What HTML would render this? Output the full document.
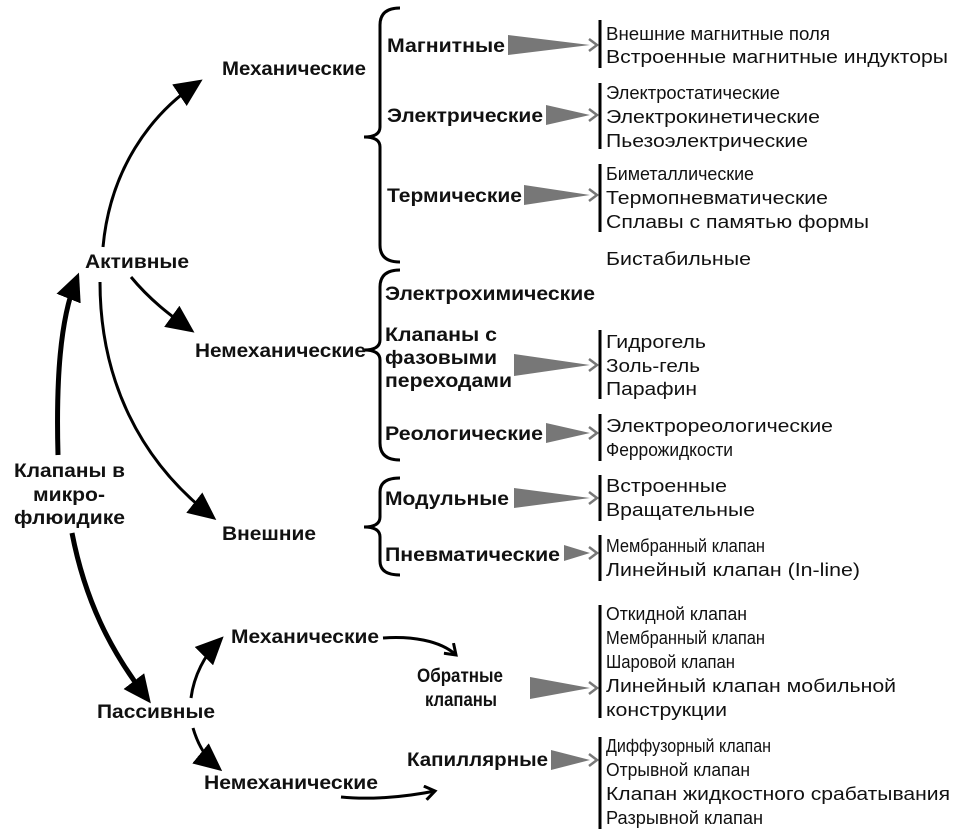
<!DOCTYPE html>
<html><head><meta charset="utf-8"><style>
html,body{margin:0;padding:0;background:#fff;}
svg{display:block;}
text{font-family:"Liberation Sans","DejaVu Sans",sans-serif;fill:#111;}
.b{font-weight:bold;font-size:19.5px;}
.r{font-size:18.5px;}
</style></head><body>
<svg width="959" height="833" viewBox="0 0 959 833" xmlns="http://www.w3.org/2000/svg">
<defs>
<marker id="big" markerWidth="28" markerHeight="26" refX="20" refY="13" orient="auto" markerUnits="userSpaceOnUse"><path d="M0,0 L28,13 L0,26 Z" fill="#000"/></marker>
<marker id="open" markerWidth="16" markerHeight="16" refX="12" refY="8" orient="auto" markerUnits="userSpaceOnUse"><path d="M2,1 L12,8 L2,15" fill="none" stroke="#000" stroke-width="3"/></marker>
</defs>

<g fill="none" stroke="#000" stroke-width="3">
<path d="M400,8 Q380,8 380,25 L380,127 Q380,137 364,137 Q380,137 380,147 L380,245 Q380,262 400,262"/>
<path d="M400,270 Q380,270 380,287 L380,340 Q380,350 364,350 Q380,350 380,360 L380,443 Q380,460 400,460"/>
<path d="M400,478 Q380,478 380,492 L380,517 Q380,527 364,527 Q380,527 380,537 L380,561 Q380,575 400,575"/>
</g>

<g fill="none" stroke="#000">
<path d="M103,247 C110,170 150,115 196,84" stroke-width="3" marker-end="url(#big)"/>
<path d="M131,277 C150,300 170,315 188,328" stroke-width="3" marker-end="url(#big)"/>
<path d="M100,282 C100,380 140,460 210,515" stroke-width="3" marker-end="url(#big)"/>
<path d="M58,455 C56,380 60,320 76,280" stroke-width="5" marker-end="url(#big)"/>
<path d="M72,533 C85,600 110,650 146,697" stroke-width="5" marker-end="url(#big)"/>
<path d="M191,698 C194,675 205,655 218,642" stroke-width="3" marker-end="url(#big)"/>
<path d="M193,728 C198,745 205,757 216,766" stroke-width="3" marker-end="url(#big)"/>
<path d="M383,638 C410,636 440,640 456,655" stroke-width="3" marker-end="url(#open)"/>
<path d="M341,797 C370,800 405,797 435,791" stroke-width="3" marker-end="url(#open)"/>
</g>

<g fill="#777" stroke="none">
<polygon points="508,35 590,45 508,55"/>
<polygon points="546,105 590,115 546,125"/>
<polygon points="524,185 590,195 524,205"/>
<polygon points="514,354 590,365 514,376"/>
<polygon points="546,423 590,433 546,443"/>
<polygon points="514,488 590,498 514,508"/>
<polygon points="564,545 590,553 564,561"/>
<polygon points="530,677 590,688 530,699"/>
<polygon points="551,750 590,760 551,770"/>
</g>
<g fill="none" stroke="#777" stroke-width="2.5">
<path d="M589,39 L597,45 L589,51"/>
<path d="M589,109 L597,115 L589,121"/>
<path d="M589,189 L597,195 L589,201"/>
<path d="M589,359 L597,365 L589,371"/>
<path d="M589,427 L597,433 L589,439"/>
<path d="M589,492 L597,498 L589,504"/>
<path d="M589,547 L597,553 L589,559"/>
<path d="M589,682 L597,688 L589,694"/>
<path d="M589,754 L597,760 L589,766"/>
</g>

<g stroke="#000" stroke-width="3">
<line x1="600" y1="20" x2="600" y2="68"/>
<line x1="600" y1="83" x2="600" y2="149"/>
<line x1="600" y1="164" x2="600" y2="232"/>
<line x1="600" y1="330" x2="600" y2="399"/>
<line x1="600" y1="414" x2="600" y2="461"/>
<line x1="600" y1="475" x2="600" y2="521"/>
<line x1="600" y1="535" x2="600" y2="581"/>
<line x1="600" y1="605" x2="600" y2="718"/>
<line x1="600" y1="737" x2="600" y2="829"/>
</g>

<g class="b" lengthAdjust="spacingAndGlyphs">
<text x="222" y="75" textLength="144" lengthAdjust="spacingAndGlyphs">Механические</text>
<text x="85" y="268" textLength="104" lengthAdjust="spacingAndGlyphs">Активные</text>
<text x="195" y="357" textLength="171" lengthAdjust="spacingAndGlyphs">Немеханические</text>
<text x="222" y="540" textLength="94" lengthAdjust="spacingAndGlyphs">Внешние</text>
<text x="14" y="477" textLength="111" lengthAdjust="spacingAndGlyphs">Клапаны в</text>
<text x="33" y="501" textLength="72" lengthAdjust="spacingAndGlyphs">микро-</text>
<text x="14" y="524" textLength="111" lengthAdjust="spacingAndGlyphs">флюидике</text>
<text x="97" y="718" textLength="118" lengthAdjust="spacingAndGlyphs">Пассивные</text>
<text x="231" y="643" textLength="148" lengthAdjust="spacingAndGlyphs">Механические</text>
<text x="204" y="789" textLength="174" lengthAdjust="spacingAndGlyphs">Немеханические</text>
<text x="417" y="682" textLength="86" lengthAdjust="spacingAndGlyphs">Обратные</text>
<text x="425" y="706" textLength="72" lengthAdjust="spacingAndGlyphs">клапаны</text>
<text x="407" y="766" textLength="141" lengthAdjust="spacingAndGlyphs">Капиллярные</text>
<text x="387" y="52" textLength="118" lengthAdjust="spacingAndGlyphs">Магнитные</text>
<text x="387" y="122" textLength="156" lengthAdjust="spacingAndGlyphs">Электрические</text>
<text x="387" y="202" textLength="135" lengthAdjust="spacingAndGlyphs">Термические</text>
<text x="385" y="300" textLength="210" lengthAdjust="spacingAndGlyphs">Электрохимические</text>
<text x="385" y="341" textLength="112" lengthAdjust="spacingAndGlyphs">Клапаны с</text>
<text x="385" y="364" textLength="112" lengthAdjust="spacingAndGlyphs">фазовыми</text>
<text x="385" y="387" textLength="127" lengthAdjust="spacingAndGlyphs">переходами</text>
<text x="385" y="440" textLength="158" lengthAdjust="spacingAndGlyphs">Реологические</text>
<text x="385" y="505" textLength="124" lengthAdjust="spacingAndGlyphs">Модульные</text>
<text x="385" y="561" textLength="175" lengthAdjust="spacingAndGlyphs">Пневматические</text>
</g>

<g class="r">
<text x="606" y="40" textLength="224" lengthAdjust="spacingAndGlyphs">Внешние магнитные поля</text>
<text x="606" y="63" textLength="342" lengthAdjust="spacingAndGlyphs">Встроенные магнитные индукторы</text>
<text x="606" y="99" textLength="174" lengthAdjust="spacingAndGlyphs">Электростатические</text>
<text x="606" y="123" textLength="214" lengthAdjust="spacingAndGlyphs">Электрокинетические</text>
<text x="606" y="147" textLength="202" lengthAdjust="spacingAndGlyphs">Пьезоэлектрические</text>
<text x="606" y="180" textLength="148" lengthAdjust="spacingAndGlyphs">Биметаллические</text>
<text x="606" y="204" textLength="222" lengthAdjust="spacingAndGlyphs">Термопневматические</text>
<text x="606" y="228" textLength="263" lengthAdjust="spacingAndGlyphs">Сплавы с памятью формы</text>
<text x="606" y="265" textLength="145" lengthAdjust="spacingAndGlyphs">Бистабильные</text>
<text x="606" y="348" textLength="100" lengthAdjust="spacingAndGlyphs">Гидрогель</text>
<text x="606" y="372" textLength="94" lengthAdjust="spacingAndGlyphs">Золь-гель</text>
<text x="606" y="395" textLength="91" lengthAdjust="spacingAndGlyphs">Парафин</text>
<text x="606" y="432" textLength="227" lengthAdjust="spacingAndGlyphs">Электрореологические</text>
<text x="606" y="456" textLength="127" lengthAdjust="spacingAndGlyphs">Феррожидкости</text>
<text x="606" y="492" textLength="121" lengthAdjust="spacingAndGlyphs">Встроенные</text>
<text x="606" y="516" textLength="149" lengthAdjust="spacingAndGlyphs">Вращательные</text>
<text x="606" y="552" textLength="159" lengthAdjust="spacingAndGlyphs">Мембранный клапан</text>
<text x="606" y="576" textLength="254" lengthAdjust="spacingAndGlyphs">Линейный клапан (In-line)</text>
<text x="606" y="620" textLength="141" lengthAdjust="spacingAndGlyphs">Откидной клапан</text>
<text x="606" y="644" textLength="159" lengthAdjust="spacingAndGlyphs">Мембранный клапан</text>
<text x="606" y="668" textLength="129" lengthAdjust="spacingAndGlyphs">Шаровой клапан</text>
<text x="606" y="692" textLength="290" lengthAdjust="spacingAndGlyphs">Линейный клапан мобильной</text>
<text x="606" y="716" textLength="121" lengthAdjust="spacingAndGlyphs">конструкции</text>
<text x="606" y="752" textLength="165" lengthAdjust="spacingAndGlyphs">Диффузорный клапан</text>
<text x="606" y="776" textLength="144" lengthAdjust="spacingAndGlyphs">Отрывной клапан</text>
<text x="606" y="800" textLength="344" lengthAdjust="spacingAndGlyphs">Клапан жидкостного срабатывания</text>
<text x="606" y="824" textLength="157" lengthAdjust="spacingAndGlyphs">Разрывной клапан</text>
</g>
</svg>
</body></html>
